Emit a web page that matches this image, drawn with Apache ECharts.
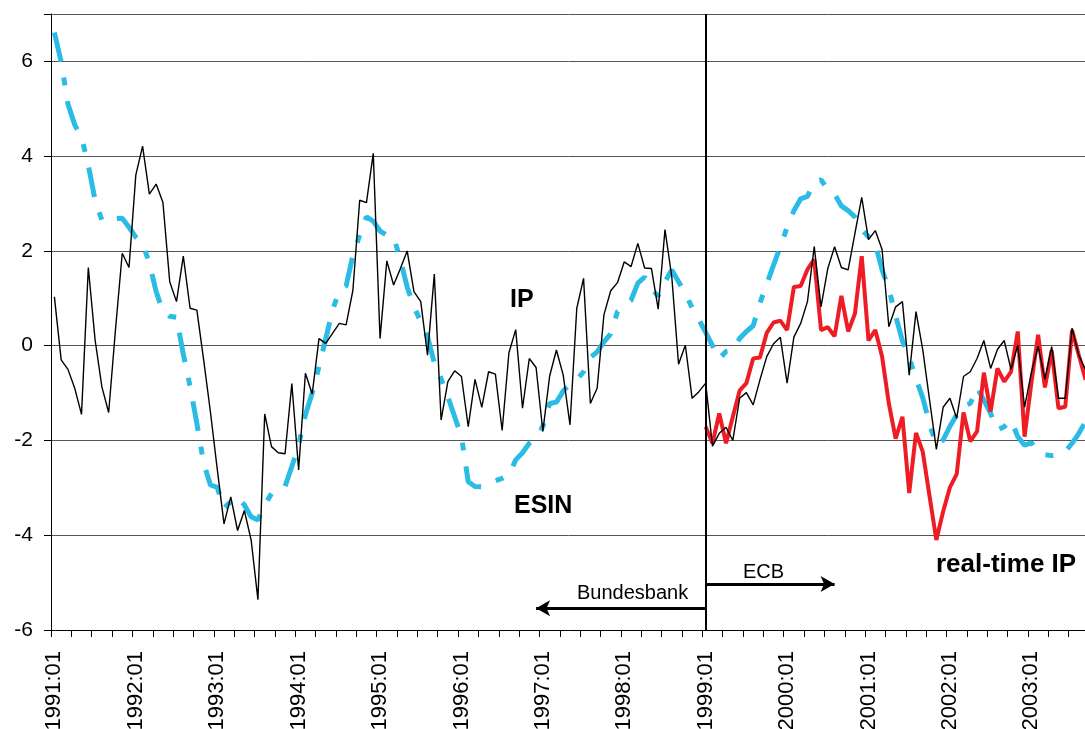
<!DOCTYPE html>
<html>
<head>
<meta charset="utf-8">
<script src="https://cdn.jsdelivr.net/npm/echarts@6/dist/echarts.min.js"></script>
<style>
  html, body { margin: 0; padding: 0; background: #fff; }
  #chart { width: 1085px; height: 729px; }
</style>
</head>
<body>
<div id="chart"></div>
<script>
// monthly categories 1991:01 .. 2003:09
const categories = [];
for (let y = 1991; y <= 2003; y++) {
  for (let m = 1; m <= 12; m++) {
    if (y === 2003 && m > 9) break;
    categories.push(y + ':' + String(m).padStart(2, '0'));
  }
}

const yTicks = [-6, -4, -2, 0, 2, 4, 6];

// IP (black)
const ip = [
  1.03, -0.30, -0.50, -0.90, -1.45, 1.65, 0.12, -0.87, -1.41, 0.33, 1.95, 1.65,
  3.60, 4.21, 3.20, 3.41, 3.02, 1.35, 0.93, 1.89, 0.79, 0.75, -0.30, -1.40,
  -2.60, -3.76, -3.19, -3.90, -3.48, -4.10, -5.36, -1.44, -2.13, -2.26, -2.28, -0.80,
  -2.62, -0.58, -1.02, 0.15, 0.05, 0.26, 0.47, 0.44, 1.17, 3.07, 3.02, 4.06,
  0.15, 1.79, 1.28, 1.63, 2.00, 1.14, 0.93, -0.20, 1.51, -1.57, -0.76, -0.53,
  -0.65, -1.71, -0.71, -1.30, -0.55, -0.60, -1.79, -0.15, 0.34, -1.32, -0.27, -0.46,
  -1.81, -0.64, -0.09, -0.62, -1.67, 0.79, 1.42, -1.22, -0.90, 0.65, 1.16, 1.33,
  1.77, 1.67, 2.16, 1.64, 1.63, 0.77, 2.45, 1.46, -0.39, 0.01, -1.11, -0.97,
  -0.79, -2.12, -1.85, -1.72, -2.00, -1.11, -0.99, -1.25, -0.72, -0.23, 0.04, 0.18,
  -0.79, 0.18, 0.47, 0.93, 2.09, 0.82, 1.63, 2.09, 1.65, 1.60, 2.37, 3.13,
  2.24, 2.43, 2.03, 0.40, 0.82, 0.93, -0.62, 0.72, -0.09, -1.15, -2.19, -1.30,
  -1.11, -1.53, -0.65, -0.55, -0.27, 0.11, -0.48, -0.08, 0.11, -0.50, 0.01, -1.30,
  -0.57, -0.01, -0.71, -0.02, -1.11, -1.11, 0.37, -0.20, -0.51
];

// ESIN (light blue, dash-dot)
const esin = [
  6.61, 5.99, 5.10, 4.66, 4.40, 3.81, 3.07, 2.65, 2.62, 2.68, 2.69, 2.50,
  2.29, 2.16, 1.74, 1.14, 0.72, 0.62, 0.60, -0.18, -0.86, -1.64, -2.48, -2.94,
  -2.99, -3.43, -3.29, -3.19, -3.36, -3.61, -3.68, -3.36, -3.12, -3.01, -2.97, -2.55,
  -2.10, -1.46, -1.00, -0.44, 0.15, 0.75, 1.16, 1.26, 1.91, 2.33, 2.72, 2.63,
  2.42, 2.33, 2.30, 1.81, 1.24, 0.82, 0.51, 0.19, -0.36, -0.70, -1.08, -1.50,
  -1.92, -2.87, -2.97, -2.98, -2.90, -2.85, -2.80, -2.73, -2.41, -2.26, -2.06, -1.96,
  -1.70, -1.22, -1.19, -0.96, -0.80, -0.72, -0.55, -0.25, -0.13, 0.08, 0.25, 0.72,
  0.85, 0.96, 1.32, 1.45, 1.20, 1.05, 1.35, 1.60, 1.35, 1.10, 0.80, 0.55,
  0.28, 0.00, -0.28, -0.12, -0.10, 0.15, 0.30, 0.42, 0.90, 1.30, 1.70, 2.09,
  2.50, 2.85, 3.10, 3.15, 3.45, 3.50, 3.30, 3.20, 2.95, 2.85, 2.72, 2.45,
  2.30, 2.15, 1.60, 1.20, 0.63, 0.10, -0.25, -0.70, -1.10, -1.65, -2.10, -1.99,
  -1.70, -1.46, -1.27, -1.22, -0.88, -1.15, -1.43, -1.78, -1.71, -1.57, -1.92, -2.10,
  -2.05, -2.24, -2.30, -2.32, -2.29, -2.24, -2.06, -1.85, -1.60
];

// real-time IP (red), from 1999:01
const realTimeStart = '1999:01';
const realTimeIP = [
  -1.71, -2.06, -1.43, -2.06, -1.50, -0.95, -0.79, -0.27, -0.25, 0.27, 0.49, 0.53,
  0.33, 1.24, 1.26, 1.61, 1.82, 0.33, 0.39, 0.20, 1.05, 0.30, 0.68, 1.89,
  0.11, 0.33, -0.23, -1.22, -1.96, -1.50, -3.11, -1.84, -2.24, -3.18, -4.10, -3.50,
  -2.99, -2.71, -1.41, -2.02, -1.81, -0.57, -1.39, -0.48, -0.76, -0.55, 0.30, -1.92,
  -0.79, 0.23, -0.88, -0.10, -1.32, -1.29, 0.33, -0.20, -0.72
];

// regime arrows
const ecbArrow = { from: '1999:01', to: '2000:08', y: -5.03 };
const bbkArrow = { from: '1999:01', to: '1996:12', y: -5.54 };

const FONT = '"Liberation Sans", Arial, sans-serif';
const startIdx = categories.indexOf(realTimeStart);
const realTimeData = realTimeIP.map((v, k) => [categories[startIdx + k], v]);

const chart = echarts.init(document.getElementById('chart'), null, { renderer: 'canvas' });

const option = {
  animation: false,
  backgroundColor: '#fff',
  grid: { left: 51, right: -4, top: 14, bottom: 99, containLabel: false, outerBoundsMode: 'none' },
  xAxis: {
    type: 'category',
    data: categories,
    boundaryGap: true,
    axisLine: { show: true, onZero: false, lineStyle: { color: '#000', width: 1 } },
    axisTick: {
      show: true, length: 7, inside: false,
      lineStyle: { color: '#000', width: 1 },
      interval: (i, v) => ['01', '04', '07', '10'].includes(v.slice(5))
    },
    axisLabel: {
      interval: (i, v) => v.endsWith(':01'),
      rotate: 90,
      margin: 21,
      color: '#000',
      fontSize: 22,
      fontFamily: FONT
    },
    splitLine: { show: false }
  },
  yAxis: {
    type: 'value',
    min: yTicks[0],
    max: 7,
    interval: 2,
    axisLine: { show: true, lineStyle: { color: '#000', width: 1 } },
    axisTick: { show: true, length: 7, lineStyle: { color: '#000' } },
    axisLabel: {
      margin: 18,
      color: '#000',
      fontSize: 21,
      fontFamily: FONT,
      formatter: v => (yTicks.includes(v) ? String(v) : '')
    },
    splitLine: { show: true, lineStyle: { color: '#555', width: 1 } }
  },
  series: [
    {
      name: 'ESIN',
      type: 'line',
      data: esin,
      symbol: 'none',
      lineStyle: { color: '#2BBCE6', width: 5, type: [30, 16, 8, 16] },
      z: 2
    },
    {
      name: 'real-time IP',
      type: 'line',
      data: realTimeData,
      symbol: 'none',
      lineStyle: { color: '#EE1D25', width: 4 },
      z: 3
    },
    {
      name: 'IP',
      type: 'line',
      data: ip,
      symbol: 'none',
      lineStyle: { color: '#000', width: 1.4 },
      z: 4,
      markLine: {
        silent: true,
        animation: false,
        symbol: 'none',
        label: { show: false },
        emphasis: { disabled: true },
        data: [
          { xAxis: realTimeStart, lineStyle: { color: '#000', width: 2, type: 'solid' } },
          [
            { coord: [ecbArrow.from, ecbArrow.y], symbol: 'none' },
            { coord: [ecbArrow.to, ecbArrow.y], symbol: 'arrow', symbolSize: [12, 14] }
          ],
          [
            { coord: [bbkArrow.from, bbkArrow.y], symbol: 'none' },
            { coord: [bbkArrow.to, bbkArrow.y], symbol: 'arrow', symbolSize: [12, 14] }
          ]
        ],
        lineStyle: { color: '#000', width: 3, type: 'solid' },
        itemStyle: { color: '#000' }
      }
    }
  ],
  graphic: [
    { type: 'text', left: 510, top: 288, style: { text: 'IP', font: 'bold 25px ' + FONT, fill: '#000' } },
    { type: 'text', left: 514, top: 494, style: { text: 'ESIN', font: 'bold 25px ' + FONT, fill: '#000' } },
    { type: 'text', left: 936, top: 552, style: { text: 'real-time IP', font: 'bold 26px ' + FONT, fill: '#000' } },
    { type: 'text', left: 743, top: 562, style: { text: 'ECB', font: '20px ' + FONT, fill: '#000' } },
    { type: 'text', left: 577, top: 583, style: { text: 'Bundesbank', font: '20px ' + FONT, fill: '#000' } }
  ]
};

chart.setOption(option);
window.addEventListener('resize', () => chart.resize());
</script>
</body>
</html>
